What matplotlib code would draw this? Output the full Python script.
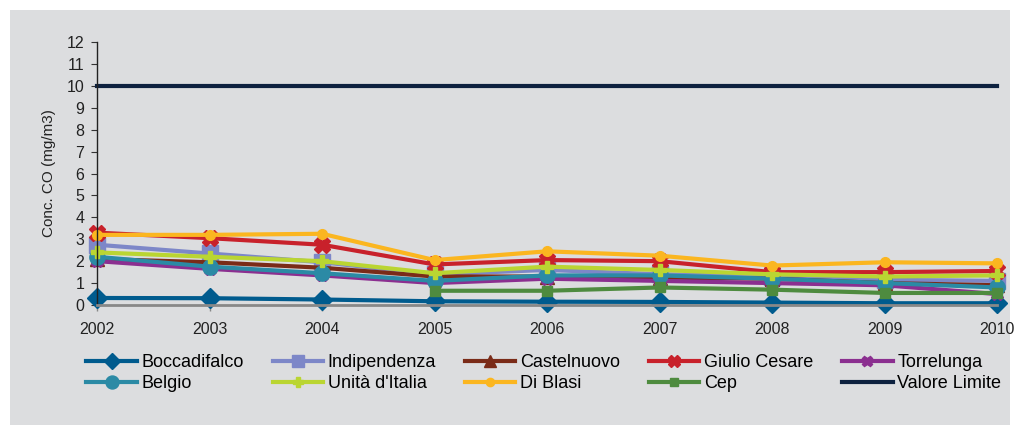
import matplotlib
matplotlib.use("Agg")
import matplotlib.pyplot as plt
from matplotlib.patches import Rectangle

# ---- data ----
years = [2002, 2003, 2004, 2005, 2006, 2007, 2008, 2009, 2010]
boccadifalco = [0.32, 0.31, 0.25, 0.17, 0.15, 0.14, 0.11, 0.08, 0.08]
indipendenza = [2.75, 2.35, 1.95, 1.40, 1.60, 1.40, 1.30, 1.15, 1.10]
castelnuovo = [2.10, 1.95, 1.70, 1.30, 1.30, 1.25, 1.20, 1.00, 0.90]
giulio_cesare = [3.30, 3.05, 2.75, 1.85, 2.05, 2.00, 1.50, 1.50, 1.55]
torrelunga = [2.00, 1.65, 1.35, 1.00, 1.20, 1.10, 1.00, 0.90, 0.50]
belgio = [2.20, 1.75, 1.45, 1.10, 1.35, 1.35, 1.20, 1.00, 0.80]
unita_italia = [2.40, 2.20, 2.00, 1.45, 1.75, 1.60, 1.40, 1.30, 1.35]
di_blasi = [3.20, 3.20, 3.25, 2.05, 2.45, 2.25, 1.80, 1.95, 1.90]
cep = [None, None, None, 0.65, 0.65, 0.80, 0.70, 0.55, 0.55]
valore_limite = [10] * 9

names = ["Boccadifalco", "Indipendenza", "Castelnuovo", "Giulio Cesare", "Torrelunga",
         "Belgio", "Unità d'Italia", "Di Blasi", "Cep", "Valore Limite"]
series = [boccadifalco, indipendenza, castelnuovo, giulio_cesare, torrelunga,
          belgio, unita_italia, di_blasi, cep, valore_limite]

# style per series: colour, marker, marker size
styles = [
    ("#005b8e", "D", 10),
    ("#7d87c8", "s", 11),
    ("#7a2b18", "^", 10),
    ("#c8212b", "X", 11),
    ("#8b2f90", "X", 9),
    ("#2b8aa5", "o", 11),
    ("#bad532", "P", 9),
    ("#fbb620", "o", 7),
    ("#4e8b3f", "s", 7),
    ("#0d213f", None, 0),
]

plt.rcParams["font.family"] = ["Liberation Sans", "DejaVu Sans"]
BG = "#dcdddf"

fig = plt.figure(figsize=(10.16, 4.25), dpi=100, facecolor="white")
fig.patches.append(Rectangle((10 / 1016, 0), 1000 / 1016, 415 / 425,
                             transform=fig.transFigure, facecolor=BG,
                             edgecolor="none", zorder=-10))
ax = fig.add_axes([97 / 1016, 1 - 305 / 425, 900 / 1016, 263 / 425])
ax.set_zorder(5)
ax.patch.set_visible(False)

handles = []
for name, vals, (col, mk, ms) in zip(names, series, styles):
    xs = [x for x, v in zip(years, vals) if v is not None]
    ys = [v for v in vals if v is not None]
    h, = ax.plot(xs, ys, color=col, lw=3.0, marker=mk, markersize=ms,
                 markeredgecolor=col, label=name, clip_on=False,
                 solid_joinstyle="round")
    handles.append(h)

ax.set_xlim(2002, 2010)
ax.set_ylim(0, 12)
ax.set_yticks(range(0, 13))
ax.set_xticks(years)
ax.tick_params(axis="both", labelsize=11.5, colors="#222222")
ax.tick_params(axis="y", length=4, width=0.8, color="#333333", pad=5)
ax.tick_params(axis="x", length=4, width=1.0, color="#888888", pad=8)
for s in ["top", "right"]:
    ax.spines[s].set_visible(False)
ax.spines["left"].set_color("#222222")
ax.spines["left"].set_linewidth(1.0)
ax.spines["bottom"].set_color("#888888")
ax.spines["bottom"].set_linewidth(2.0)
ax.set_ylabel("Conc. CO (mg/m3)", fontsize=11, color="#222222", labelpad=8)

# legend fills column-wise, so reorder to read row-wise in 2 rows x 5 cols
order = [0, 5, 1, 6, 2, 7, 3, 8, 4, 9]
leg = fig.legend([handles[i] for i in order], [names[i] for i in order],
                 ncol=5, loc="upper left", bbox_to_anchor=(70 / 1016, 1 - 338 / 425),
                 frameon=False, fontsize=13, handlelength=2.8, handletextpad=0.25,
                 columnspacing=1.6, labelspacing=0.2, markerscale=0.85)
leg.set_zorder(6)

fig.savefig("out.png", dpi=100, facecolor=fig.get_facecolor())
